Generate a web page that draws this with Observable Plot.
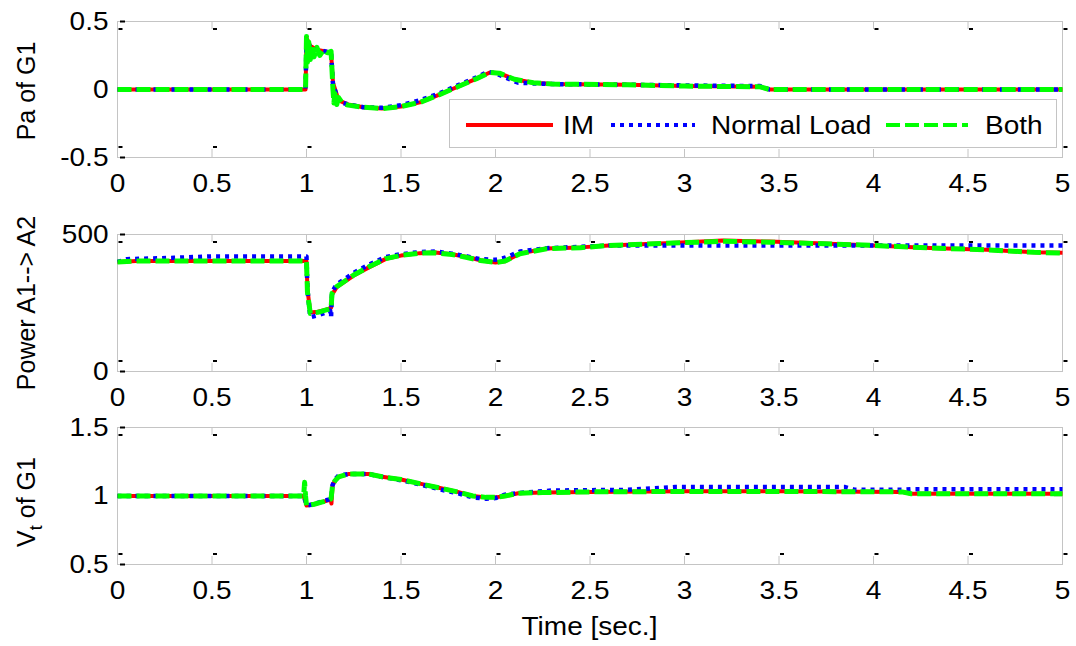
<!DOCTYPE html>
<html>
<head>
<meta charset="utf-8">
<script src="https://cdn.jsdelivr.net/npm/d3@7"></script>
<script src="https://cdn.jsdelivr.net/npm/@observablehq/plot@0.6"></script>
<style>
  body { margin: 0; background: #fff; }
  #chart { position: relative; width: 1076px; height: 646px; overflow: hidden; background: #fff; }
  #chart svg { display: block; }
  #legend { position: absolute; left: 449px; top: 99px; }
</style>
</head>
<body>
<div id="chart"></div>
<script>
// ---- shared axis values ----
const xTicks = [0, 0.5, 1, 1.5, 2, 2.5, 3, 3.5, 4, 4.5, 5];
const paTicks = [-0.5, 0, 0.5];
const powerTicks = [0, 500];
const vtTicks = [0.5, 1, 1.5];
const seriesNames = ["IM", "Normal Load", "Both"];

// ---- Pa of G1 (accelerating power) ----
const paTimeIM = [0, 0.995, 1.0, 1.02, 1.06, 1.1, 1.13, 1.14, 1.17, 1.22, 1.3, 1.4, 1.5, 1.6, 1.7, 1.8, 1.9, 1.97, 2.02, 2.1, 2.2, 2.3, 2.7, 3.0, 3.4, 3.45, 5];
const paIM     = [0, 0, 0.38, 0.32, 0.29, 0.28, 0.27, 0.05, -0.08, -0.11, -0.13, -0.14, -0.125, -0.095, -0.04, 0.02, 0.08, 0.125, 0.12, 0.075, 0.05, 0.04, 0.035, 0.025, 0.02, 0, 0];
const paTimeNL = [0, 0.995, 1.0, 1.02, 1.06, 1.1, 1.13, 1.14, 1.17, 1.22, 1.3, 1.4, 1.5, 1.6, 1.7, 1.8, 1.9, 1.96, 2.0, 2.05, 2.12, 2.2, 2.3, 2.7, 3.0, 3.4, 3.45, 5];
const paNL     = [0, 0, 0.37, 0.31, 0.29, 0.28, 0.27, 0.04, -0.09, -0.11, -0.13, -0.135, -0.115, -0.08, -0.03, 0.03, 0.09, 0.13, 0.12, 0.09, 0.05, 0.045, 0.04, 0.035, 0.03, 0.025, 0, 0];
const paTimeBoth = [0, 0.995, 1.0, 1.005, 1.012, 1.02, 1.03, 1.04, 1.055, 1.07, 1.09, 1.11, 1.13, 1.14, 1.145, 1.15, 1.16, 1.17, 1.19, 1.22, 1.3, 1.4, 1.5, 1.6, 1.7, 1.8, 1.9, 1.97, 2.02, 2.1, 2.2, 2.3, 2.7, 3.0, 3.4, 3.45, 5];
const paBoth     = [0, 0, 0.39, 0.2, 0.35, 0.22, 0.33, 0.24, 0.31, 0.25, 0.29, 0.27, 0.28, 0.0, -0.1, -0.03, -0.11, -0.06, -0.1, -0.115, -0.13, -0.14, -0.125, -0.095, -0.04, 0.02, 0.08, 0.125, 0.12, 0.075, 0.05, 0.04, 0.035, 0.025, 0.02, 0, 0];

// ---- Power A1 --> A2 ----
const pwTimeIM = [0, 0.1, 1.0, 1.005, 1.02, 1.06, 1.1, 1.13, 1.135, 1.16, 1.25, 1.33, 1.42, 1.5, 1.6, 1.68, 1.77, 1.85, 1.92, 2.0, 2.05, 2.13, 2.27, 2.45, 2.6, 2.9, 3.2, 3.45, 3.7, 4.0, 4.3, 4.6, 4.85, 5];
const pwIM     = [400, 403, 403, 300, 215, 218, 225, 232, 280, 308, 350, 380, 411, 423, 432, 434, 428, 418, 406, 398, 402, 431, 449, 453, 460, 468, 478, 474, 468, 460, 451, 444, 435, 433];
const pwTimeNL = [0, 0.05, 0.3, 0.5, 1.0, 1.005, 1.02, 1.06, 1.1, 1.125, 1.13, 1.135, 1.16, 1.25, 1.33, 1.42, 1.5, 1.6, 1.68, 1.77, 1.85, 1.92, 2.0, 2.05, 2.13, 2.27, 2.45, 2.6, 3.0, 4.0, 5];
const pwNL     = [400, 410, 415, 420, 420, 300, 198, 205, 215, 222, 198, 290, 318, 360, 390, 418, 428, 436, 438, 430, 420, 410, 408, 415, 438, 450, 455, 460, 460, 460, 460];
const pwTimeBoth = [0, 0.1, 1.0, 1.005, 1.02, 1.06, 1.1, 1.13, 1.135, 1.16, 1.25, 1.33, 1.42, 1.5, 1.6, 1.68, 1.77, 1.85, 1.92, 2.0, 2.05, 2.13, 2.27, 2.45, 2.6, 2.9, 3.2, 3.45, 3.7, 4.0, 4.3, 4.6, 4.85, 5];
const pwBoth     = [400, 403, 403, 290, 212, 216, 224, 230, 285, 310, 352, 382, 412, 424, 432, 433, 427, 416, 405, 398, 403, 430, 448, 452, 460, 468, 475, 472, 467, 460, 451, 444, 435, 432];

// ---- Vt of G1 (terminal voltage) ----
const vtTimeIM = [0, 0.985, 0.995, 1.0, 1.04, 1.08, 1.12, 1.128, 1.132, 1.138, 1.15, 1.17, 1.22, 1.33, 1.4, 1.5, 1.6, 1.7, 1.8, 1.88, 1.95, 2.0, 2.05, 2.12, 2.25, 2.5, 3.0, 3.5, 4.15, 4.2, 5];
const vtIM     = [1.0, 1.0, 0.96, 0.93, 0.94, 0.955, 0.97, 0.975, 0.945, 1.08, 1.11, 1.14, 1.16, 1.16, 1.14, 1.12, 1.09, 1.06, 1.03, 1.0, 0.99, 0.99, 1.0, 1.02, 1.025, 1.03, 1.035, 1.035, 1.03, 1.016, 1.016];
const vtTimeNL = [0, 0.985, 0.995, 1.0, 1.04, 1.08, 1.12, 1.13, 1.138, 1.15, 1.17, 1.22, 1.33, 1.4, 1.5, 1.6, 1.7, 1.8, 1.88, 1.95, 2.0, 2.05, 2.15, 2.3, 2.7, 2.95, 3.85, 3.9, 4.15, 4.2, 5];
const vtNL     = [1.0, 1.0, 0.96, 0.93, 0.94, 0.96, 0.975, 0.98, 1.08, 1.12, 1.15, 1.16, 1.16, 1.14, 1.115, 1.085, 1.05, 1.02, 0.99, 0.98, 0.985, 1.01, 1.025, 1.04, 1.045, 1.065, 1.065, 1.045, 1.045, 1.05, 1.05];
const vtTimeBoth = [0, 0.985, 0.99, 0.995, 1.0, 1.04, 1.08, 1.12, 1.13, 1.138, 1.15, 1.17, 1.22, 1.33, 1.4, 1.5, 1.6, 1.7, 1.8, 1.88, 1.95, 2.0, 2.05, 2.12, 2.25, 2.5, 3.0, 3.5, 4.15, 4.2, 5];
const vtBoth     = [1.0, 1.0, 1.1, 1.0, 0.93, 0.94, 0.955, 0.97, 0.98, 1.08, 1.11, 1.14, 1.16, 1.16, 1.14, 1.12, 1.09, 1.06, 1.03, 1.0, 0.99, 0.99, 1.0, 1.02, 1.025, 1.03, 1.033, 1.033, 1.03, 1.016, 1.016];

// ---- styling ----
const FONT = "'Liberation Sans', Arial, Helvetica, sans-serif";
const FONT_SIZE = 25;
const GRAY = "#c4c4c4";
const styles = {
  "IM":          {stroke: "#ff0000", strokeWidth: 4},
  "Normal Load": {stroke: "#0000ff", strokeWidth: 4.5, strokeDasharray: "4,5"},
  "Both":        {stroke: "#00ff00", strokeWidth: 5, strokeDasharray: "14,5"}
};

function seriesLines(t1, v1, t2, v2, t3, v3) {
  const common = {strokeLinejoin: "round", strokeLinecap: "butt"};
  return [
    Plot.line(t1, {x: t1, y: v1, ...common, ...styles["IM"]}),
    Plot.line(t2, {x: t2, y: v2, ...common, ...styles["Normal Load"]}),
    Plot.line(t3, {x: t3, y: v3, ...common, ...styles["Both"]})
  ];
}

function panel({height, marginTop, marginBottom, yDomain, yTicks, lines}) {
  const W = 1076, ML = 117, MR = 14;
  const fw = W - ML - MR, fh = height - marginTop - marginBottom;
  const fmt = d => String(d);
  return Plot.plot({
    width: W, height, marginTop, marginBottom, marginLeft: ML, marginRight: MR,
    x: {domain: [0, 5]},
    y: {domain: yDomain},
    style: {fontFamily: FONT, fontSize: FONT_SIZE + "px", color: "#000", background: "#fff", overflow: "visible"},
    marks: [
      Plot.frame({stroke: GRAY}),
      // short inward tick marks on all four sides
      Plot.tickX(xTicks, {x: d => d, stroke: GRAY, insetBottom: fh - 8}),
      Plot.tickX(xTicks, {x: d => d, stroke: GRAY, insetTop: fh - 8}),
      Plot.tickY(yTicks, {y: d => d, stroke: GRAY, insetRight: fw - 8}),
      Plot.tickY(yTicks, {y: d => d, stroke: GRAY, insetLeft: fw - 8}),
      // dark tick ends
      Plot.tickX(xTicks, {x: d => d, stroke: "#000", strokeWidth: 4, insetTop: 7, insetBottom: fh - 9, dx: 3}),
      Plot.tickX(xTicks, {x: d => d, stroke: "#000", strokeWidth: 4, insetTop: fh - 11, insetBottom: 9, dx: 3}),
      Plot.tickY(yTicks, {y: d => d, stroke: "#000", strokeWidth: 2, insetLeft: 3, insetRight: fw - 8}),
      Plot.axisX({ticks: xTicks, tickSize: 0, tickPadding: 17, tickFormat: fmt, fontSize: FONT_SIZE, label: null}),
      Plot.axisY({ticks: yTicks, tickSize: 0, tickPadding: 9, tickFormat: fmt, fontSize: FONT_SIZE, label: null}),
      ...lines
    ]
  });
}

// rotated y title, centred on the panel frame; parts = [[text, isSubscript], ...]
function yTitle(svg, cy, parts) {
  const t = d3.select(svg).append("text")
    .attr("transform", `translate(35,${cy}) rotate(-90)`)
    .attr("text-anchor", "middle")
    .attr("font-family", FONT)
    .attr("font-size", FONT_SIZE)
    .attr("fill", "#000");
  let shifted = false;
  for (const [s, sub] of parts) {
    const span = t.append("tspan").text(s);
    if (sub) { span.attr("font-size", 18).attr("dy", 7); shifted = true; }
    else if (shifted) { span.attr("dy", -7); shifted = false; }
  }
}

const chart = document.getElementById("chart");

const p1 = panel({
  height: 215, marginTop: 21, marginBottom: 58,
  yDomain: [-0.5, 0.5], yTicks: paTicks,
  lines: seriesLines(paTimeIM, paIM, paTimeNL, paNL, paTimeBoth, paBoth)
});
yTitle(p1, 91, [["Pa of G1", false]]);

const p2 = panel({
  height: 193, marginTop: 19, marginBottom: 37,
  yDomain: [0, 500], yTicks: powerTicks,
  lines: seriesLines(pwTimeIM, pwIM, pwTimeNL, pwNL, pwTimeBoth, pwBoth)
});
yTitle(p2, 88, [["Power A1--> A2", false]]);

const p3 = panel({
  height: 238, marginTop: 19, marginBottom: 82,
  yDomain: [0.5, 1.5], yTicks: vtTicks,
  lines: seriesLines(vtTimeIM, vtIM, vtTimeNL, vtNL, vtTimeBoth, vtBoth)
});
yTitle(p3, 94, [["V", false], ["t", true], [" of G1", false]]);
d3.select(p3).append("text")
  .attr("class", "stretch")
  .attr("x", (117 + 1062) / 2).attr("y", 227)
  .attr("text-anchor", "middle")
  .attr("font-family", FONT).attr("font-size", FONT_SIZE)
  .attr("fill", "#000")
  .text("Time [sec.]");

chart.append(p1, p2, p3);

// legend box inside the top panel
const legend = d3.select(chart).append("svg")
  .attr("id", "legend").attr("width", 609).attr("height", 50);
legend.append("rect")
  .attr("x", 0.5).attr("y", 0.5).attr("width", 607).attr("height", 48)
  .attr("fill", "#fff").attr("stroke", GRAY);
const legendItems = [
  {name: seriesNames[0], x1: 17, x2: 104, tx: 114},
  {name: seriesNames[1], x1: 162, x2: 246, tx: 262},
  {name: seriesNames[2], x1: 437, x2: 519, tx: 536}
];
for (const it of legendItems) {
  const s = styles[it.name];
  legend.append("line")
    .attr("x1", it.x1).attr("x2", it.x2).attr("y1", 26).attr("y2", 26)
    .attr("stroke", s.stroke).attr("stroke-width", 4)
    .attr("stroke-dasharray", s.strokeDasharray || null);
  legend.append("text")
    .attr("class", "stretch")
    .attr("x", it.tx).attr("y", 35)
    .attr("font-family", FONT).attr("font-size", FONT_SIZE)
    .attr("fill", "#000")
    .text(it.name);
}

// widen horizontal lettering slightly (wide sans look)
chart.querySelectorAll("text.stretch, g[aria-label$='tick label'] text").forEach(t => {
  const L = t.getComputedTextLength();
  if (L > 0) {
    t.setAttribute("textLength", (L * 1.12).toFixed(1));
    t.setAttribute("lengthAdjust", "spacingAndGlyphs");
  }
});
</script>
</body>
</html>
